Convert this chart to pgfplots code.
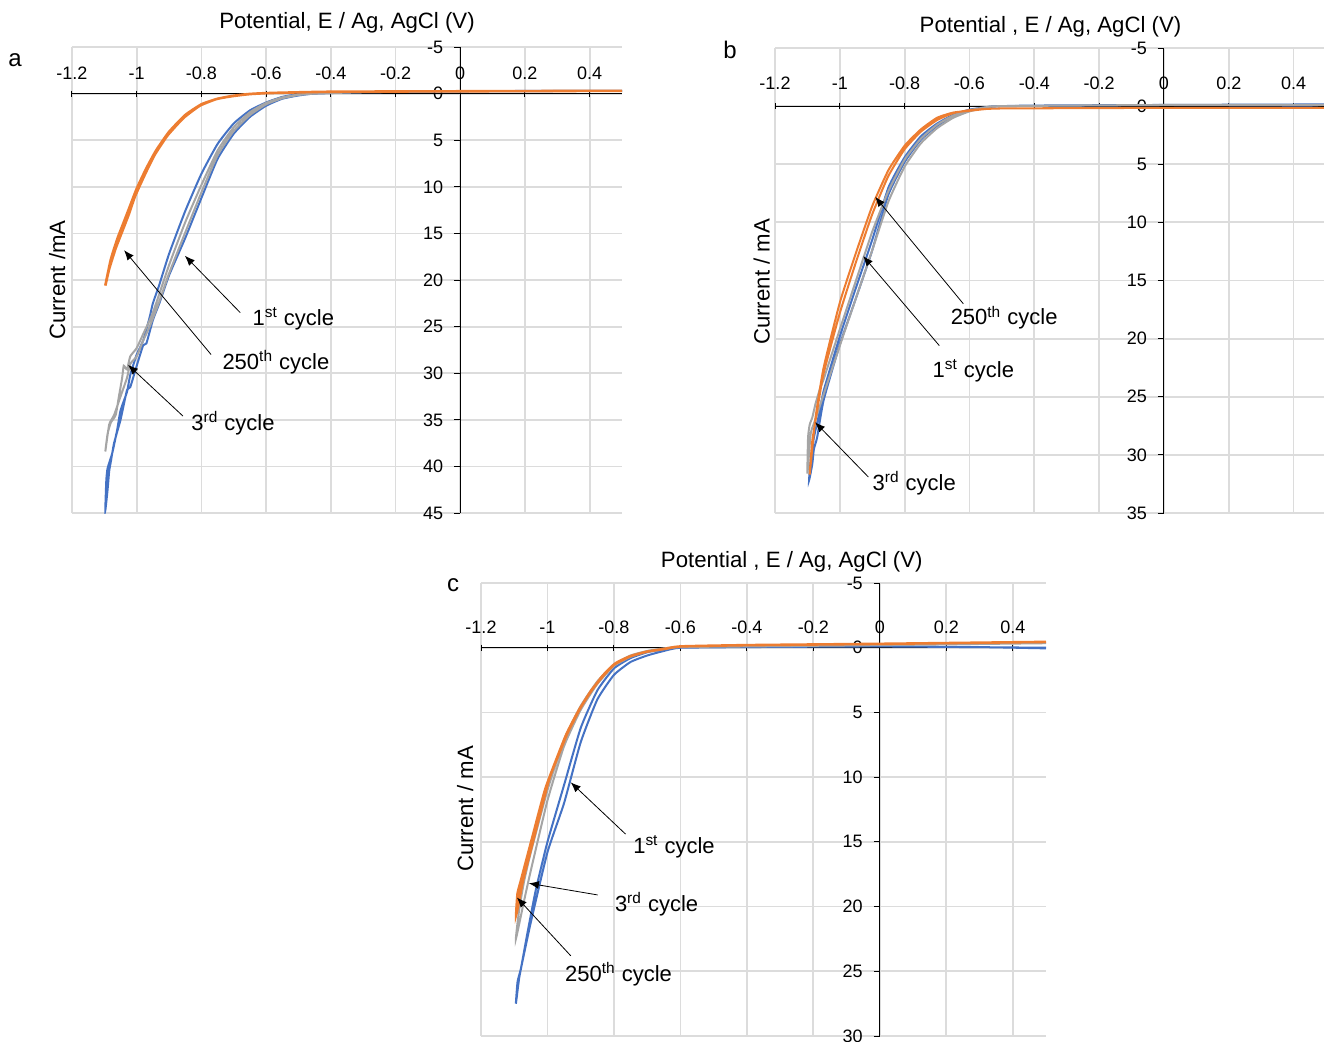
\documentclass[border=0pt]{standalone}
\usepackage{fontspec}
\setmainfont{Liberation Sans}
\usepackage{pgfplots}
\pgfplotsset{compat=1.18}
\usetikzlibrary{arrows.meta}
\definecolor{cblue}{HTML}{4472C4}
\definecolor{corange}{HTML}{ED7D31}
\definecolor{cgray}{HTML}{A5A5A5}
\definecolor{cgrid}{HTML}{DCDCDC}
\tikzset{
  ann/.style={font=\fontsize{11}{13}\selectfont, anchor=west, inner sep=0pt},
  arr/.style={-{Latex[length=5pt,width=4pt]}, line width=0.4pt, black},
  lab/.style={font=\fontsize{11.1}{13}\selectfont},
}
\pgfplotsset{cvstyle/.style={
  scale only axis,
  axis x line=middle, axis y line=middle,
  axis line style={-, black, line width=0.5pt},
  y dir=reverse,
  xmin=-1.2, xmax=0.5,
  xtick={-1.2,-1,-0.8,-0.6,-0.4,-0.2,0,0.2,0.4},
  grid=major, major grid style={cgrid, line width=0.9pt},
  hide obscured x ticks=false, hide obscured y ticks=false,
  tick style={black, line width=0.5pt}, major tick length=3pt,
  xtick align=center, ytick align=outside,
  /pgf/number format/assume math mode=true,
  ticklabel style={font=\fontsize{9}{11}\selectfont},
  yticklabel style={anchor=east, xshift=-2pt},
}}
\begin{document}
\begin{tikzpicture}
\path[use as bounding box] (0,0) rectangle (662pt,-520.5pt);
% ---------------- panel a ----------------
\begin{axis}[cvstyle,
  at={(36pt,-23.5pt)}, anchor=north west,
  width=275pt, height=233pt,
  ymin=-5, ymax=45, ytick={-5,0,...,45},
  xticklabel style={anchor=center, yshift=11.75pt},
  xlabel={Potential, E / Ag, AgCl (V)},
  ylabel={Current /mA},
  every axis x label/.style={lab, at={(axis description cs:0.5,1.052)}, anchor=center},
  every axis y label/.style={lab, at={(axis description cs:-0.027,0.5)}, rotate=90, anchor=center},
]
\addplot[cblue, line width=1pt, smooth, tension=0.3] coordinates {
(0.5,-0.3)(0.3,-0.3)(0,-0.25)(-0.3,-0.15)(-0.45,0.0)(-0.5,0.2)(-0.55,0.55)(-0.6,1.3)(-0.65,2.5)(-0.7,4.3)(-0.75,7.0)(-0.8,11.2)(-0.85,15.5)(-0.9,19.5)(-0.93,22.5)(-0.95,24.3)(-0.97,26.8)(-0.98,27.0)(-1.0,29.2)(-1.02,31.5)(-1.03,31.8)(-1.05,35.0)(-1.07,37.5)(-1.08,39.5)(-1.085,40.5)(-1.09,42.5)(-1.097,44.7)
(-1.094,41.5)(-1.09,40.2)(-1.075,38.5)(-1.06,36.0)(-1.05,34.0)(-1.03,32.0)(-1.02,30.2)(-1.0,28.0)(-0.98,26.5)(-0.96,24.0)(-0.95,22.5)(-0.93,20.5)(-0.9,17.2)(-0.85,12.6)(-0.8,8.6)(-0.75,5.4)(-0.7,3.2)(-0.65,1.8)(-0.6,0.95)(-0.55,0.35)(-0.5,0.05)(-0.45,-0.05)(-0.3,-0.15)(0,-0.25)(0.5,-0.3)};
\addplot[cgray, line width=1pt, smooth, tension=0.3] coordinates {
(0.5,-0.3)(0,-0.25)(-0.3,-0.15)(-0.45,0.0)(-0.5,0.15)(-0.55,0.5)(-0.6,1.15)(-0.65,2.3)(-0.7,4.0)(-0.75,6.6)(-0.8,10.6)(-0.85,14.9)(-0.9,19.3)(-0.93,22.3)(-0.96,25.0)(-0.98,26.5)(-1.0,28.2)(-1.02,29.0)(-1.03,30.5)(-1.05,32.5)(-1.07,34.5)(-1.085,35.5)(-1.097,38.4)
(-1.09,36.5)(-1.08,35.3)(-1.065,34.5)(-1.055,32.5)(-1.045,30.5)(-1.04,29.2)(-1.03,29.6)(-1.02,28.2)(-1.0,27.3)(-0.98,25.8)(-0.95,23.5)(-0.9,18.4)(-0.85,13.8)(-0.8,9.8)(-0.75,6.1)(-0.7,3.6)(-0.65,2.0)(-0.6,1.0)(-0.55,0.4)(-0.5,0.1)(-0.45,0)(-0.3,-0.15)(0,-0.25)(0.5,-0.3)};
\addplot[corange, line width=1.3pt, smooth, tension=0.3] coordinates {
(0.5,-0.3)(0,-0.25)(-0.4,-0.2)(-0.55,-0.1)(-0.6,-0.05)(-0.65,0.05)(-0.7,0.25)(-0.75,0.55)(-0.8,1.15)(-0.85,2.3)(-0.9,4.1)(-0.94,6.1)(-0.97,8.0)(-1.0,10.2)(-1.02,12.0)(-1.04,13.8)(-1.06,15.6)(-1.08,17.8)(-1.097,20.6)
(-1.085,18.8)(-1.065,16.6)(-1.045,14.8)(-1.025,13.0)(-1.005,11.0)(-0.975,8.7)(-0.945,6.6)(-0.905,4.5)(-0.855,2.6)(-0.805,1.3)(-0.755,0.6)(-0.705,0.25)(-0.655,0.05)(-0.6,-0.05)(-0.4,-0.2)(0,-0.25)(0.5,-0.3)};
\draw[arr] (axis cs:-0.680,23.5) -- (axis cs:-0.851,17.4);
\draw[arr] (axis cs:-0.770,28.0) -- (axis cs:-1.039,16.8);
\draw[arr] (axis cs:-0.857,34.6) -- (axis cs:-1.027,29.1);
\node[ann] at (axis cs:-0.643,24.2) {1\textsuperscript{st} cycle};
\node[ann] at (axis cs:-0.736,28.8) {250\textsuperscript{th} cycle};
\node[ann] at (axis cs:-0.832,35.4) {3\textsuperscript{rd} cycle};
\end{axis}
% ---------------- panel b ----------------
\begin{axis}[cvstyle,
  at={(387.5pt,-24pt)}, anchor=north west,
  width=275.5pt, height=232.5pt,
  ymin=-5, ymax=35, ytick={-5,0,...,35},
  xticklabel style={anchor=center, yshift=12.75pt},
  xlabel={Potential , E / Ag, AgCl (V)},
  ylabel={Current / mA},
  every axis x label/.style={lab, at={(axis description cs:0.5,1.045)}, anchor=center},
  every axis y label/.style={lab, at={(axis description cs:-0.024,0.497)}, rotate=90, anchor=center},
]
\addplot[cblue, line width=1pt, smooth, tension=0.3] coordinates {
(0.5,-0.2)(0.45,-0.05)(0,-0.1)(-0.4,-0.05)(-0.5,0.0)(-0.55,0.1)(-0.6,0.35)(-0.65,0.85)(-0.7,1.7)(-0.75,2.9)(-0.8,4.8)(-0.85,7.6)(-0.9,12.4)(-0.95,16.5)(-1.0,20.5)(-1.05,25.3)(-1.07,28.5)(-1.08,29.5)(-1.085,30.8)(-1.095,32.2)
(-1.09,30.5)(-1.08,28.5)(-1.06,26.0)(-1.05,24.5)(-1.0,19.8)(-0.95,15.6)(-0.9,11.5)(-0.85,7.0)(-0.8,4.4)(-0.75,2.6)(-0.7,1.5)(-0.65,0.75)(-0.6,0.3)(-0.55,0.1)(-0.5,0)(0,-0.1)(0.5,-0.15)};
\addplot[cgray, line width=1pt, smooth, tension=0.3] coordinates {
(0.5,-0.1)(0,-0.1)(-0.5,0.0)(-0.55,0.15)(-0.6,0.45)(-0.65,1.0)(-0.7,1.9)(-0.75,3.2)(-0.8,5.2)(-0.85,8.2)(-0.9,12.4)(-0.95,16.5)(-1.0,20.6)(-1.05,24.8)(-1.07,26.5)(-1.08,27.3)(-1.09,28.2)(-1.1,31.6)
(-1.098,28.5)(-1.093,27.4)(-1.085,26.8)(-1.075,25.6)(-1.06,24.2)(-1.05,23.5)(-1.0,19.2)(-0.95,15.0)(-0.9,10.8)(-0.85,7.3)(-0.8,4.6)(-0.75,2.8)(-0.7,1.6)(-0.65,0.8)(-0.6,0.35)(-0.55,0.1)(-0.5,0)(0,-0.1)(0.5,-0.1)};
\addplot[corange, line width=1pt, smooth, tension=0.3] coordinates {
(0.5,0.15)(0,0.15)(-0.5,0.2)(-0.55,0.25)(-0.6,0.4)(-0.65,0.55)(-0.7,1.0)(-0.75,2.0)(-0.8,3.4)(-0.85,5.5)(-0.9,8.6)(-0.95,12.6)(-1.0,16.9)(-1.05,22.5)(-1.075,26.8)(-1.093,31.7)
(-1.085,28.8)(-1.07,26.2)(-1.05,23.0)(-1.0,17.8)(-0.95,13.4)(-0.9,9.3)(-0.85,6.0)(-0.8,3.7)(-0.75,2.2)(-0.7,1.2)(-0.65,0.6)(-0.6,0.35)(-0.5,0.2)(0,0.15)(0.5,0.15)};
\draw[arr] (axis cs:-0.619,17.0) -- (axis cs:-0.891,7.8);
\draw[arr] (axis cs:-0.693,20.6) -- (axis cs:-0.928,12.9);
\draw[arr] (axis cs:-0.912,31.9) -- (axis cs:-1.076,27.2);
\node[ann] at (axis cs:-0.659,18.2) {250\textsuperscript{th} cycle};
\node[ann] at (axis cs:-0.715,22.8) {1\textsuperscript{st} cycle};
\node[ann] at (axis cs:-0.900,32.4) {3\textsuperscript{rd} cycle};
\end{axis}
% ---------------- panel c ----------------
\begin{axis}[cvstyle,
  at={(240.5pt,-291.5pt)}, anchor=north west,
  width=282.5pt, height=226.5pt,
  ymin=-5, ymax=30, ytick={-5,0,...,30},
  xticklabel style={anchor=center, yshift=11.75pt},
  xlabel={Potential , E / Ag, AgCl (V)},
  ylabel={Current / mA},
  every axis x label/.style={lab, at={(axis description cs:0.55,1.046)}, anchor=center},
  every axis y label/.style={lab, at={(axis description cs:-0.028,0.501)}, rotate=90, anchor=center},
]
\addplot[cblue, line width=1pt, smooth, tension=0.3] coordinates {
(0.5,0.05)(0.3,-0.05)(0,-0.1)(-0.4,-0.05)(-0.6,0.0)(-0.65,0.25)(-0.7,0.6)(-0.75,1.1)(-0.8,2.1)(-0.85,4.0)(-0.9,7.3)(-0.95,12.0)(-1.0,15.8)(-1.05,21.2)(-1.075,24.2)(-1.085,25.5)(-1.095,27.5)
(-1.09,25.8)(-1.08,24.8)(-1.06,22.0)(-1.035,18.7)(-1.0,15.0)(-0.95,10.6)(-0.9,6.2)(-0.85,3.3)(-0.8,1.6)(-0.75,0.8)(-0.7,0.35)(-0.65,0.1)(-0.6,0.0)(-0.4,-0.05)(0,-0.1)(0.5,0)};
\addplot[cgray, line width=1pt, smooth, tension=0.3] coordinates {
(0.5,-0.35)(0,-0.2)(-0.4,-0.1)(-0.6,-0.05)(-0.65,0.1)(-0.7,0.3)(-0.75,0.7)(-0.8,1.4)(-0.85,2.8)(-0.9,4.8)(-0.95,7.6)(-1.0,11.8)(-1.05,17.2)(-1.07,19.5)(-1.095,22.5)
(-1.085,20.2)(-1.07,18.0)(-1.05,15.8)(-1.0,11.0)(-0.95,7.1)(-0.9,4.5)(-0.85,2.6)(-0.8,1.3)(-0.75,0.6)(-0.7,0.25)(-0.65,0.05)(-0.6,-0.05)(-0.4,-0.12)(0,-0.22)(0.5,-0.35)};
\addplot[corange, line width=1.3pt, smooth, tension=0.3] coordinates {
(0.5,-0.45)(0,-0.3)(-0.4,-0.2)(-0.6,-0.1)(-0.65,0.1)(-0.7,0.3)(-0.75,0.65)(-0.795,1.2)(-0.83,2.1)(-0.868,3.3)(-0.9,4.6)(-0.94,6.6)(-0.989,9.7)(-1.0,10.6)(-1.037,14.3)(-1.073,17.9)(-1.085,19.5)(-1.094,20.6)
(-1.09,19.0)(-1.08,18.0)(-1.045,14.6)(-1.005,10.8)(-0.945,6.8)(-0.905,4.8)(-0.87,3.4)(-0.835,2.2)(-0.8,1.3)(-0.75,0.65)(-0.7,0.3)(-0.65,0.1)(-0.6,-0.1)(-0.4,-0.2)(0,-0.3)(0.5,-0.45)};
\draw[arr] (axis cs:-0.765,14.4) -- (axis cs:-0.930,10.4);
\draw[arr] (axis cs:-0.849,19.1) -- (axis cs:-1.056,18.2);
\draw[arr] (axis cs:-0.930,23.8) -- (axis cs:-1.092,19.3);
\node[ann] at (axis cs:-0.743,15.4) {1\textsuperscript{st} cycle};
\node[ann] at (axis cs:-0.798,19.8) {3\textsuperscript{rd} cycle};
\node[ann] at (axis cs:-0.948,25.2) {250\textsuperscript{th} cycle};
\end{axis}
\node[font=\fontsize{12}{14}\selectfont] at (7.5pt,-30pt) {a};
\node[font=\fontsize{12}{14}\selectfont] at (365pt,-25pt) {b};
\node[font=\fontsize{12}{14}\selectfont] at (226.5pt,-292.5pt) {c};
\end{tikzpicture}
\end{document}
